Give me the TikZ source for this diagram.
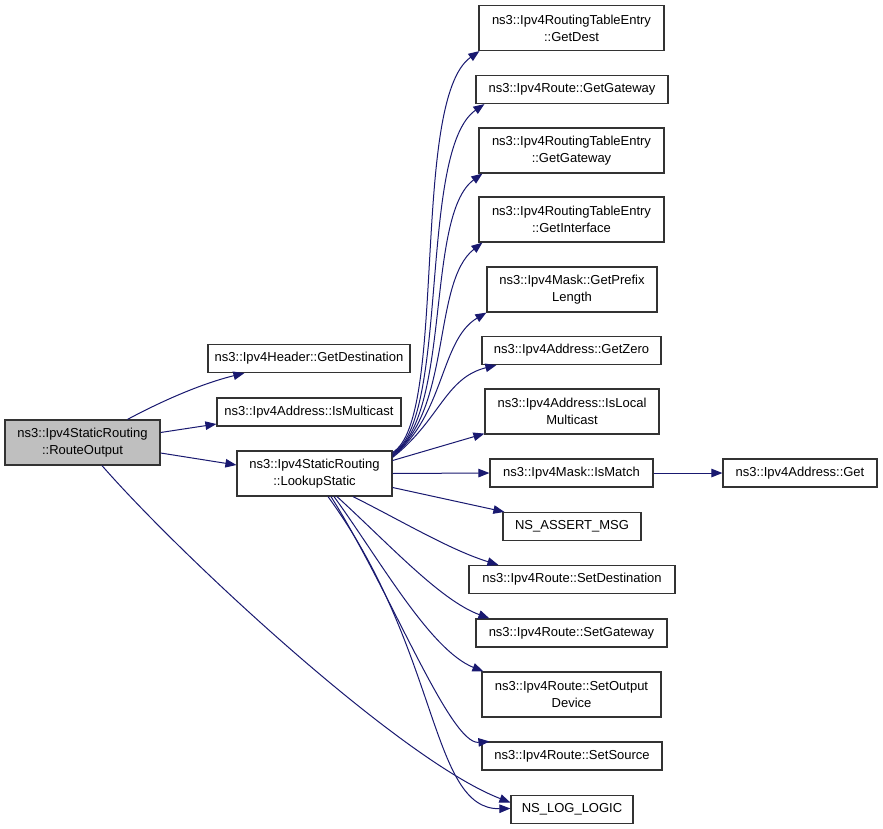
\documentclass[tikz,border=0pt]{standalone}
\usepackage{fontspec}
\setmainfont{Liberation Sans}
\usetikzlibrary{arrows.meta,calc}
\definecolor{edgeblue}{RGB}{25,25,112}
\definecolor{boxgrey}{RGB}{191,191,191}
\begin{document}
\begin{tikzpicture}[x=1pt,y=-1pt,
  fn/.style={draw=black!80,line width=1.2pt,fill=white,inner sep=0pt,align=center,
    font=\fontsize{13}{17}\selectfont},
  one/.style={fn,minimum height=28pt},
  two/.style={fn,minimum height=45pt},
  call/.style={draw=edgeblue,line width=1pt,-{Triangle[length=11pt,width=8.5pt]}}]
\useasboundingbox[fill=white] (0,0) rectangle (883,829);
% nodes
\node[two,fill=boxgrey,minimum width=155pt] (ro) at (82.5,442.5) {ns3::Ipv4StaticRouting\\::RouteOutput};
\node[one,minimum width=202pt] (gd) at (309,358.5) {ns3::Ipv4Header::GetDestination};
\node[one,minimum width=184pt] (im) at (309,412) {ns3::Ipv4Address::IsMulticast};
\node[two,minimum width=155pt] (ls) at (314.5,473.5) {ns3::Ipv4StaticRouting\\::LookupStatic};
\node[two,minimum width=185pt] (dest) at (571.5,28) {ns3::Ipv4RoutingTableEntry\\::GetDest};
\node[one,minimum width=192pt] (rgw) at (572,89.5) {ns3::Ipv4Route::GetGateway};
\node[two,minimum width=185pt] (tgw) at (571.5,150.5) {ns3::Ipv4RoutingTableEntry\\::GetGateway};
\node[two,minimum width=185pt] (tif) at (571.5,219.5) {ns3::Ipv4RoutingTableEntry\\::GetInterface};
\node[two,minimum width=170pt] (pfx) at (572,289.5) {ns3::Ipv4Mask::GetPrefix\\Length};
\node[one,minimum width=179pt] (zero) at (571.5,350.5) {ns3::Ipv4Address::GetZero};
\node[two,minimum width=174pt] (loc) at (572,411.5) {ns3::Ipv4Address::IsLocal\\Multicast};
\node[one,minimum width=163pt] (ism) at (571.5,473) {ns3::Ipv4Mask::IsMatch};
\node[one,minimum width=138pt] (asrt) at (572,526.5) {NS\_ASSERT\_MSG};
\node[one,minimum width=206pt] (sdst) at (572,579.5) {ns3::Ipv4Route::SetDestination};
\node[one,minimum width=191pt] (sgw) at (571.5,633) {ns3::Ipv4Route::SetGateway};
\node[two,minimum width=179pt] (sod) at (571.5,694.5) {ns3::Ipv4Route::SetOutput\\Device};
\node[one,minimum width=180pt] (ssrc) at (572,756) {ns3::Ipv4Route::SetSource};
\node[one,minimum width=122pt] (log) at (572,809.5) {NS\_LOG\_LOGIC};
\node[one,minimum width=154pt] (get) at (800,473) {ns3::Ipv4Address::Get};
% edges from RouteOutput
\draw[call] ($(ro.north)+(45,0)$) .. controls (160,402) and (200,384) .. ($(gd.south west)+(37,0)$);
\draw[call] ($(ro.east)+(0,-10)$) -- ($(im.west)+(0,12)$);
\draw[call] ($(ro.east)+(0,10.5)$) -- ($(ls.west)+(0,-8.5)$);
\draw[call] ($(ro.south)+(19.5,0)$) .. controls (180,555) and (400,760) .. ($(log.west)+(0,-7)$);
% edges from LookupStatic upward
\draw[call] ($(ls.north east)+(0,2)$) .. controls (448,420) and (410,100) .. ($(dest.south west)+(1,0)$);
\draw[call] ($(ls.north east)+(0,3)$) .. controls (450,420) and (418,150) .. ($(rgw.south west)+(9,0)$);
\draw[call] ($(ls.north east)+(0,4)$) .. controls (452,415) and (425,215) .. ($(tgw.south west)+(4,0)$);
\draw[call] ($(ls.north east)+(0,5)$) .. controls (452,410) and (432,282) .. ($(tif.south west)+(4,0)$);
\draw[call] ($(ls.north east)+(0,6)$) .. controls (445,415) and (440,340) .. ($(pfx.south west)+(0,0)$);
\draw[call] ($(ls.north east)+(0,7)$) .. controls (440,420) and (445,378) .. ($(zero.south west)+(15,0)$);
\draw[call] ($(ls.east)+(0,-13)$) -- ($(loc.south west)+(0,-1)$);
\draw[call] (ls.east) -- (ism.west);
\draw[call] ($(ls.east)+(0,14)$) -- ($(asrt.north west)+(2,0)$);
% edges from LookupStatic downward
\draw[call] ($(ls.south)+(38.5,0)$) .. controls (400,520) and (450,550) .. ($(sdst.north west)+(30,0)$);
\draw[call] ($(ls.south)+(22.5,0)$) .. controls (390,545) and (440,600) .. ($(sgw.north west)+(14,0)$);
\draw[call] ($(ls.south)+(19.5,0)$) .. controls (380,560) and (430,650) .. ($(sod.north west)+(2,0)$);
\draw[call] ($(ls.south)+(16.5,0)$) .. controls (390,590) and (450,745) .. ($(ssrc.north west)+(8,0)$);
\draw[call] ($(ls.south)+(13.5,0)$) .. controls (440,650) and (430,810) .. ($(log.west)+(0,-1)$);
% IsMatch -> Get
\draw[call] (ism.east) -- (get.west);
\end{tikzpicture}
\end{document}
